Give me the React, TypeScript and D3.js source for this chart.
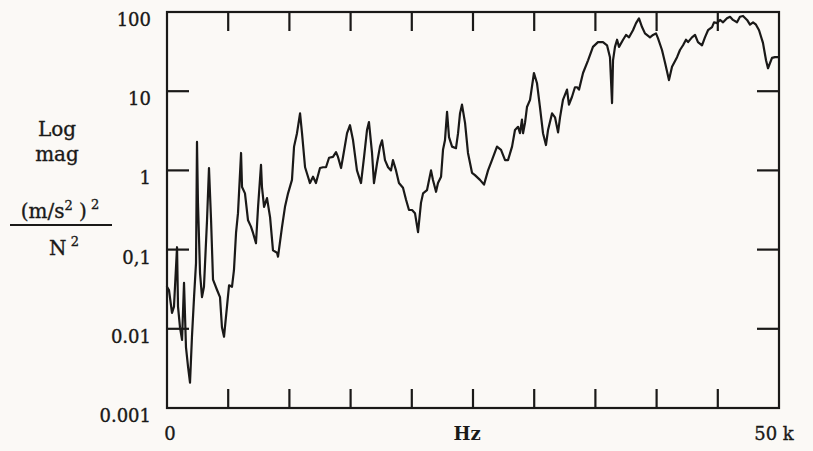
import React from "react";
import * as d3 from "d3";

// Frequency (Hz) of each traced point
const freqHz = [
  0, 160, 410, 570, 820, 900, 1060, 1230, 1390, 1550, 1720, 1880, 2040, 2210, 2370, 2450, 2530, 2700, 2860, 3020,
  3270, 3430, 3600, 3760, 4090, 4330, 4490, 4660, 4900, 5070, 5310, 5470, 5640, 5800, 6050, 6130, 6370, 6620, 6860, 7030,
  7270, 7440, 7680, 7760, 7930, 8170, 8420, 8660, 8990, 9070, 9400, 9640, 9890, 10210, 10380, 10620, 10870, 11030, 11280, 11520,
  11680, 11930, 12170, 12500, 12750, 12990, 13240, 13560, 13810, 13970, 14220, 14380, 14710, 14950, 15200, 15520, 15850, 16100, 16340, 16500,
  16750, 16910, 17160, 17400, 17570, 17810, 18060, 18300, 18460, 18710, 18950, 19280, 19530, 19770, 20020, 20260, 20510, 20750, 20920, 21240,
  21570, 21730, 21980, 22140, 22390, 22550, 22710, 22880, 23040, 23290, 23610, 23780, 23940, 24100, 24350, 24590, 24920, 25160, 25570, 25900,
  26230, 26550, 26960, 27290, 27620, 27860, 28190, 28430, 28680, 28840, 29000, 29090, 29250, 29410, 29660, 29980, 30230, 30470, 30720, 30960,
  31130, 31460, 31700, 31950, 32110, 32350, 32680, 32840, 33090, 33330, 33500, 33660, 33990, 34400, 34800, 35210, 35620, 35950, 36190, 36360,
  36440, 36600, 36770, 36930, 37260, 37500, 37750, 38070, 38320, 38560, 38810, 39050, 39460, 39710, 39950, 40110, 40440, 40690, 41010, 41260,
  41670, 41910, 42160, 42400, 42570, 42890, 43140, 43380, 43710, 43950, 44200, 44530, 44690, 44940, 45180, 45430, 45750, 46000, 46240, 46570,
  46810, 47060, 47390, 47630, 47880, 48120, 48370, 48690, 48940, 49100, 49430, 49670, 50000,
];

// log10 of the magnitude ((m/s^2)^2 / N^2) at each point
const logMag = [
  -1.47, -1.51, -1.8, -1.72, -0.97, -1.72, -1.98, -2.14, -1.42, -2.23, -2.48, -2.68, -2.1, -1.6, -1.17, 0.36, -0.41, -1.3, -1.6, -1.47,
  -0.63, 0.03, -0.63, -1.38, -1.51, -1.6, -1.98, -2.1, -1.72, -1.45, -1.47, -1.26, -0.79, -0.54, 0.22, -0.21, -0.29, -0.63, -0.71, -0.79,
  -0.92, -0.46, 0.07, -0.21, -0.46, -0.35, -0.59, -1.01, -1.04, -1.09, -0.71, -0.46, -0.29, -0.12, 0.3, 0.47, 0.72, 0.47, 0.04, -0.08,
  -0.16, -0.08, -0.16, 0.03, 0.04, 0.04, 0.16, 0.17, 0.23, 0.17, 0.03, 0.17, 0.47, 0.57, 0.38, 0.0, -0.16, 0.17, 0.51, 0.61,
  0.22, -0.16, 0.09, 0.3, 0.38, 0.13, 0.04, 0.0, 0.13, 0.0, -0.16, -0.22, -0.37, -0.5, -0.5, -0.54, -0.78, -0.41, -0.29, -0.25,
  0.0, -0.12, -0.27, -0.16, -0.08, 0.26, 0.38, 0.74, 0.42, 0.3, 0.28, 0.47, 0.72, 0.83, 0.6, 0.22, -0.03, -0.06, -0.12, -0.18,
  0.0, 0.13, 0.3, 0.26, 0.13, 0.13, 0.3, 0.51, 0.55, 0.47, 0.64, 0.47, 0.6, 0.8, 0.89, 1.23, 1.1, 0.8, 0.47, 0.32,
  0.51, 0.72, 0.67, 0.48, 0.67, 0.89, 1.02, 0.83, 0.93, 1.05, 1.05, 1.02, 1.23, 1.39, 1.56, 1.62, 1.62, 1.58, 1.43, 0.85,
  1.39, 1.56, 1.65, 1.56, 1.65, 1.71, 1.68, 1.77, 1.86, 1.92, 1.81, 1.73, 1.68, 1.71, 1.73, 1.67, 1.52, 1.36, 1.14, 1.31,
  1.43, 1.52, 1.58, 1.65, 1.62, 1.68, 1.71, 1.62, 1.58, 1.68, 1.77, 1.81, 1.87, 1.86, 1.9, 1.87, 1.92, 1.94, 1.9, 1.87,
  1.94, 1.95, 1.9, 1.84, 1.87, 1.84, 1.77, 1.61, 1.39, 1.29, 1.42, 1.43, 1.43,
];

const xTickValues = [5000, 10000, 15000, 20000, 25000, 30000, 35000, 40000, 45000];
const yTickValues = [0.001, 0.01, 0.1, 1, 10, 100];
const yTickLabels = ["0.001", "0.01", "0,1", "1", "10", "100"];
const yInnerTicks = [0.01, 0.1, 1, 10];

const W = 813;
const H = 451;
const L = 167, R = 779, T = 12, B = 408;
const INK = "#1a1918";
const FONT = "'DejaVu Serif', 'Liberation Serif', serif";

export default function App() {
  const x = d3.scaleLinear().domain([0, 50000]).range([L, R]);
  const y = d3.scaleLog().domain([0.001, 100]).range([B, T]);
  const pts = freqHz.map((f, i) => [f, Math.pow(10, logMag[i])] as [number, number]);
  const line = d3
    .line<[number, number]>()
    .x((d) => x(d[0]))
    .y((d) => y(d[1]))
    .curve(d3.curveLinear);

  const textStyle = { stroke: INK, strokeWidth: 0.35 };

  return (
    <svg
      width={W}
      height={H}
      viewBox={`0 0 ${W} ${H}`}
      style={{ position: "absolute", left: 0, top: 0 }}
    >
      <rect x={0} y={0} width={W} height={H} fill="#fbf9f6" />

      {/* curve */}
      <path
        d={line(pts) || ""}
        fill="none"
        stroke={INK}
        strokeWidth={2.2}
        strokeLinejoin="round"
        strokeLinecap="round"
      />

      {/* frame */}
      <rect x={L} y={T} width={R - L} height={B - T} fill="none" stroke={INK} strokeWidth={2.2} />

      {/* x ticks top & bottom */}
      {xTickValues.map((v) => (
        <g key={"xt" + v}>
          <line x1={x(v)} x2={x(v)} y1={T} y2={T + 19} stroke={INK} strokeWidth={2.2} />
          <line x1={x(v)} x2={x(v)} y1={B} y2={B - 19} stroke={INK} strokeWidth={2.2} />
        </g>
      ))}

      {/* y ticks left & right */}
      {yInnerTicks.map((v) => (
        <g key={"yt" + v}>
          <line x1={L} x2={L + 22} y1={y(v)} y2={y(v)} stroke={INK} strokeWidth={2.2} />
          <line x1={R} x2={R - 22} y1={y(v)} y2={y(v)} stroke={INK} strokeWidth={2.2} />
        </g>
      ))}

      {/* y tick labels */}
      {yTickValues.map((v, i) => (
        <text
          key={"yl" + v}
          x={151}
          y={y(v) + 14}
          textAnchor="end"
          fontFamily={FONT}
          fontSize={18}
          fill={INK}
          style={textStyle}
        >
          {yTickLabels[i]}
        </text>
      ))}

      {/* x labels */}
      <text x={170} y={440} textAnchor="middle" fontFamily={FONT} fontSize={18} fill={INK} style={textStyle}>
        0
      </text>
      <text x={467} y={440} textAnchor="middle" fontFamily={FONT} fontSize={18} fontWeight="bold" fill={INK}>
        Hz
      </text>
      <text x={774} y={440} textAnchor="middle" fontFamily={FONT} fontSize={18} fill={INK} style={textStyle}>
        50 k
      </text>

      {/* y axis title */}
      <g fontFamily={FONT} fontSize={20} fill={INK} textAnchor="middle" style={textStyle}>
        <text x={57} y={136}>Log</text>
        <text x={57} y={161}>mag</text>
        <text x={60} y={218}>
          (m/s
          <tspan fontSize={13} dy={-8}>2</tspan>
          <tspan dy={8}> )</tspan>
          <tspan fontSize={13} dy={-9}> 2</tspan>
        </text>
        <line x1={10} x2={112} y1={225} y2={225} stroke={INK} strokeWidth={2} />
        <text x={64} y={255}>
          N
          <tspan fontSize={13} dy={-9}> 2</tspan>
        </text>
      </g>
    </svg>
  );
}
